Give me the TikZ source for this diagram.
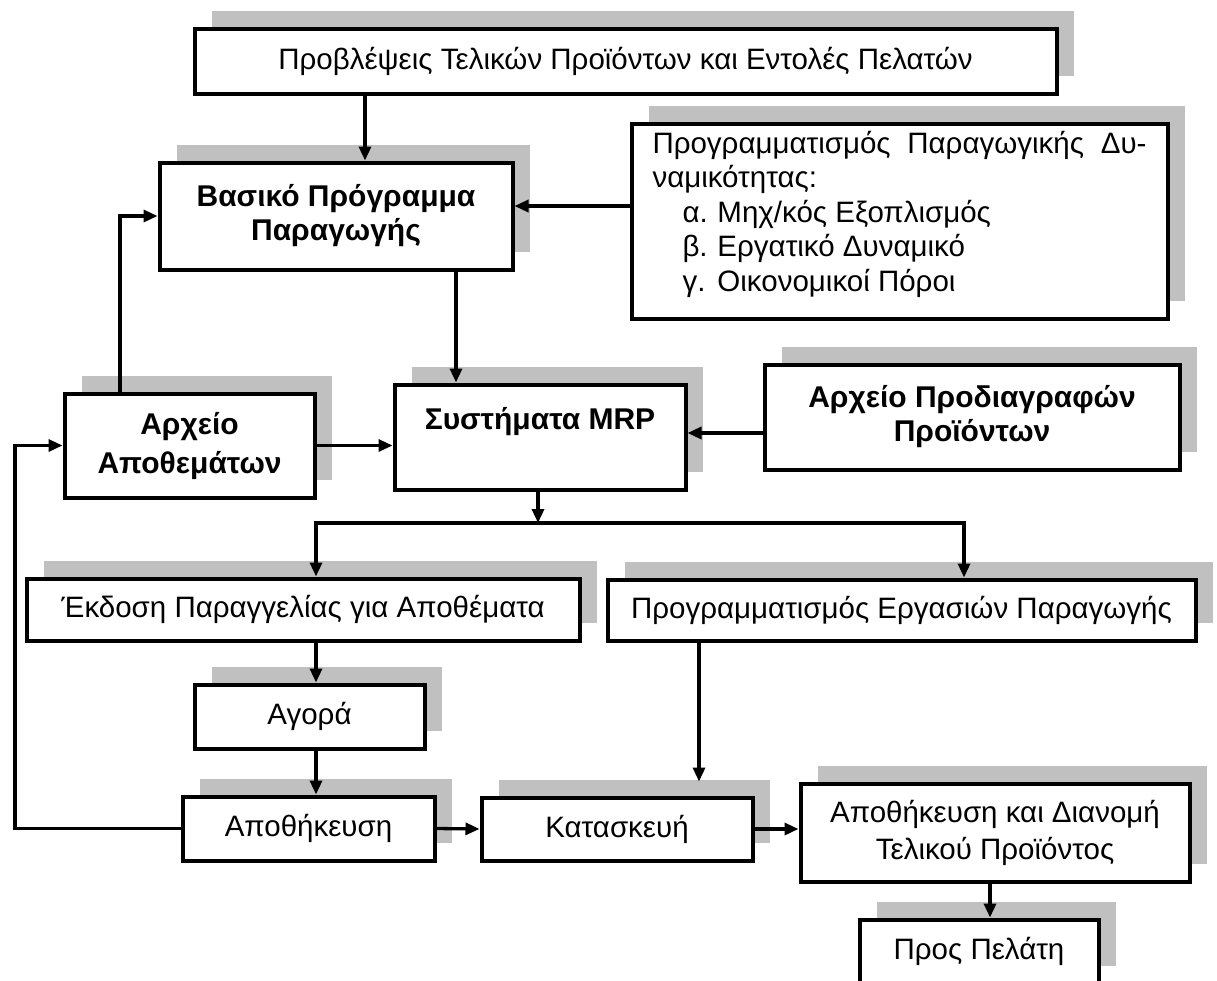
\documentclass[tikz,border=0pt]{standalone}
\usepackage{fontspec}
\setmainfont{Liberation Sans}
\usetikzlibrary{arrows.meta,shadows}
\definecolor{shadowgray}{RGB}{192,192,192}

\begin{document}
\begin{tikzpicture}[x=1pt,y=-1pt,font=\fontsize{29.5}{35}\selectfont,
  box/.style={draw,line width=4pt,fill=white,inner sep=0pt,align=center,
    general shadow={fill=shadowgray,shadow xshift=17pt,shadow yshift=18pt}},
  bold/.style={font=\fontsize{30}{34}\selectfont\bfseries},
  arr/.style={line width=3.3pt,-{Triangle[length=14pt,width=12pt]}}]
\useasboundingbox (0,0) rectangle (1217,980);
\node[box,minimum width=862pt,minimum height=65pt] (fcst) at (625.5,61) {Προβλέψεις Τελικών Προϊόντων και Εντολές Πελατών};
\node[box,bold,minimum width=353pt,minimum height=107pt] (bpp) at (336,216) {Βασικό Πρόγραμμα\\Παραγωγής};
\node[box,font=\fontsize{29.5}{34.5}\selectfont,minimum width=536pt,minimum height=195pt] (cap) at (899.5,221) {\begin{minipage}[c][180pt][t]{494pt}
  \makebox[\linewidth][s]{Προγραμματισμός Παραγωγικής Δυ-}\\ναμικότητας:\\
  \hspace*{30pt}\makebox[35pt][l]{α.}Μηχ/κός Εξοπλισμός\\
  \hspace*{30pt}\makebox[35pt][l]{β.}Εργατικό Δυναμικό\\
  \hspace*{30pt}\makebox[35pt][l]{γ.}Οικονομικοί Πόροι
  \end{minipage}};
\node[box,bold,font=\fontsize{30}{39}\selectfont\bfseries,minimum width=250pt,minimum height=104pt] (inv) at (189.5,445.5) {Αρχείο\\Αποθεμάτων};
\node[box,bold,minimum width=291pt,text height=45pt,text depth=60pt] (mrp) at (540,437) {Συστήματα MRP};
\node[box,bold,minimum width=415pt,minimum height=105pt] (spec) at (972,417) {Αρχείο Προδιαγραφών\\Προϊόντων};
\node[box,minimum width=553pt,minimum height=62pt] (ord) at (303,609.5) {Έκδοση Παραγγελίας για Αποθέματα};
\node[box,minimum width=588pt,minimum height=61pt] (sched) at (901.5,610) {Προγραμματισμός Εργασιών Παραγωγής};
\node[box,minimum width=230pt,minimum height=64pt] (buy) at (309.5,716.5) {Αγορά};
\node[box,minimum width=252pt,minimum height=64pt] (stor) at (308.5,828.5) {Αποθήκευση};
\node[box,font=\fontsize{29.5}{37}\selectfont,minimum width=271pt,minimum height=63pt] (mfg) at (617,829) {Κατασκευή};
\node[box,font=\fontsize{29.5}{37}\selectfont,minimum width=389pt,minimum height=98pt] (dist) at (995,832.5) {Αποθήκευση και Διανομή\\Τελικού Προϊόντος};
\node[box,minimum width=239pt,minimum height=64pt] (cust) at (979,951.5) {Προς Πελάτη};
\coordinate (xa) at (365,0);
\coordinate (xb) at (120,0);
\coordinate (xc) at (456,0);
\coordinate (xd) at (316,0);
\coordinate (xe) at (964,0);
\coordinate (xf) at (15,0);
\coordinate (xg) at (699,0);
\coordinate (xh) at (990,0);
\coordinate (ya) at (0,206);
\coordinate (yb) at (0,433);
\coordinate (br) at (538,523);
\draw[arr] (fcst.south -| xa) -- (bpp.north -| xa);
\draw[arr] (cap.west |- ya) -- (bpp.east |- ya);
\draw[arr] (inv.north -| xb) |- (bpp.west);
\draw[arr] (bpp.south -| xc) -- (mrp.north -| xc);
\draw[arr] (inv.east) -- (inv.east -| mrp.west);
\draw[arr] (spec.west |- yb) -- (mrp.east |- yb);
\draw[arr] (mrp.south -| br) -- (br);
\draw[arr] (br) -| (ord.north -| xd);
\draw[arr] (br) -| (sched.north -| xe);
\draw[arr] (ord.south -| xd) -- (buy.north -| xd);
\draw[arr] (buy.south -| xd) -- (stor.north -| xd);
\draw[arr] (stor.west) -| (xf |- inv.west) -- (inv.west);
\draw[arr] (stor.east) -- (mfg.west);
\draw[arr,shorten >=14pt] (sched.south -| xg) -- (mfg.north -| xg);
\draw[arr] (mfg.east) -- (mfg.east -| dist.west);
\draw[arr] (dist.south -| xh) -- (cust.north -| xh);
\end{tikzpicture}
\end{document}
